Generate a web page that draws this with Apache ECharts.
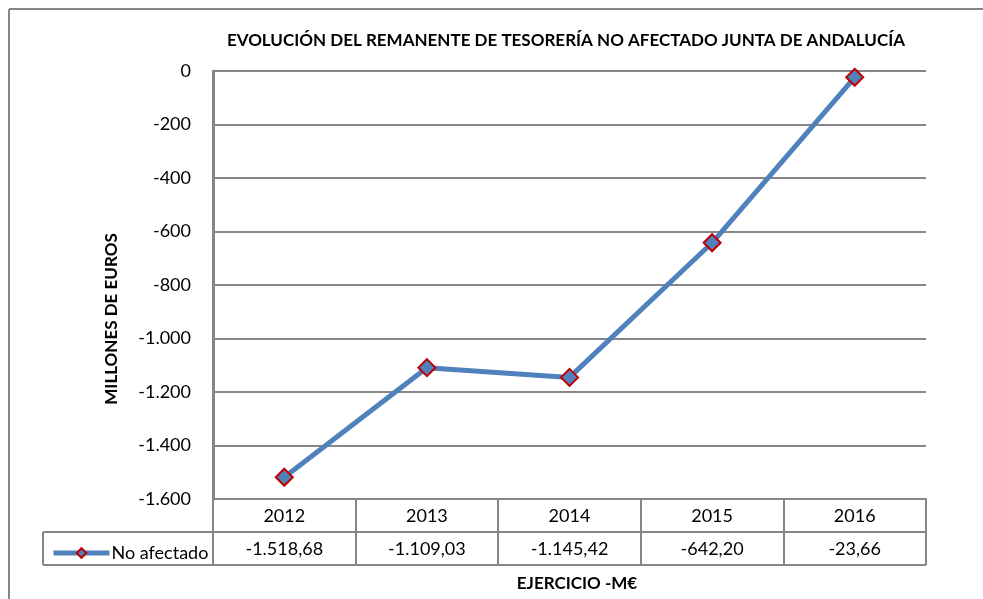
<!DOCTYPE html>
<html><head><meta charset="utf-8">
<script src="https://cdn.jsdelivr.net/npm/echarts@6/dist/echarts.min.js"></script>
<style>html,body{margin:0;padding:0;background:#fff;overflow:hidden}#c{width:983px;height:599px}</style>
</head><body><div id="c"></div>
<script>
const categories = ['2012','2013','2014','2015','2016'];
const seriesName = 'No afectado';
const values = [-1518.68, -1109.03, -1145.42, -642.20, -23.66];
const yTicks = [0,-200,-400,-600,-800,-1000,-1200,-1400,-1600];
const titleText = 'EVOLUCIÓN DEL REMANENTE DE TESORERÍA NO AFECTADO JUNTA DE ANDALUCÍA';
const yTitle = 'MILLONES DE EUROS';
const xTitle = 'EJERCICIO -M€';

function fmtEs(v, dec){
  const neg = v < 0; v = Math.abs(v);
  let s = v.toFixed(dec);
  let [i, d] = s.split('.');
  i = i.replace(/\B(?=(\d{3})+(?!\d))/g, '.');
  return (neg ? '-' : '') + i + (d ? ',' + d : '');
}

const FONT = 'Lato';
const chart = echarts.init(document.getElementById('c'), null, {renderer:'canvas'});
const GRID = '#868686';
chart.setOption({
  animation:false,
  textStyle:{fontFamily:FONT},
  title:{text:titleText, left:561, top:27, textAlign:'center',
    textStyle:{fontFamily:FONT, fontWeight:'bold', fontSize:17, color:'#000'}},
  grid:{left:213, right:57, top:71, bottom:100},
  legend:{left:46, top:539, itemWidth:56, itemHeight:12, itemGap:0,
    lineStyle:{width:5},
    textStyle:{fontFamily:FONT, fontSize:18, color:'#000', padding:[0,0,0,-3]},
    data:[seriesName]},
  xAxis:[{
    type:'category', data:categories, position:'bottom', boundaryGap:true,
    axisLine:{show:true, onZero:false, lineStyle:{color:GRID, width:2}},
    axisTick:{show:true, interval:0, length:66, lineStyle:{color:GRID, width:2}},
    axisLabel:{show:true, interval:0, fontFamily:FONT, fontSize:18, color:'#000', margin:8},
    splitLine:{show:false}
  },{
    type:'category', data:values.map(v=>fmtEs(v,2)), position:'bottom', offset:33, boundaryGap:true,
    axisLine:{show:false, onZero:false}, axisTick:{show:false},
    axisLabel:{show:true, interval:0, fontFamily:FONT, fontSize:18, color:'#000', margin:8},
    splitLine:{show:false}
  }],
  yAxis:{
    type:'value', min:-1600, max:0, interval:200,
    axisLine:{show:true, lineStyle:{color:GRID, width:3}},
    axisTick:{show:false},
    axisLabel:{fontFamily:FONT, fontSize:18, color:'#000', margin:22,
      formatter:v=>fmtEs(v,0)},
    splitLine:{show:true, lineStyle:{color:GRID, width:2}}
  },
  series:[{
    name:seriesName, type:'line', data:values, xAxisIndex:0,
    lineStyle:{color:'#4F81BD', width:5},
    symbol:'diamond', symbolSize:17,
    itemStyle:{color:'#4F81BD', borderColor:'#C00000', borderWidth:2},
    z:5
  }],
  graphic:[
    {type:'line', shape:{x1:9, y1:9, x2:983, y2:9}, style:{stroke:GRID, lineWidth:2}, silent:true},
    {type:'line', shape:{x1:9, y1:9, x2:9, y2:599}, style:{stroke:GRID, lineWidth:2}, silent:true},
    {type:'line', shape:{x1:43, y1:532, x2:926, y2:532}, style:{stroke:GRID, lineWidth:2}},
    {type:'line', shape:{x1:43, y1:565, x2:926, y2:565}, style:{stroke:GRID, lineWidth:2}},
    {type:'line', shape:{x1:43, y1:532, x2:43, y2:565}, style:{stroke:GRID, lineWidth:2}},
    {type:'text', x:112, y:319, rotation:Math.PI/2,
      style:{text:yTitle, fontFamily:FONT, fontWeight:'bold', fontSize:17, fill:'#000', textAlign:'center', textVerticalAlign:'middle'}},
    {type:'text', x:577, y:584,
      style:{text:xTitle, fontFamily:FONT, fontWeight:'bold', fontSize:17, fill:'#000', textAlign:'center', textVerticalAlign:'middle'}}
  ]
});
</script></body></html>
